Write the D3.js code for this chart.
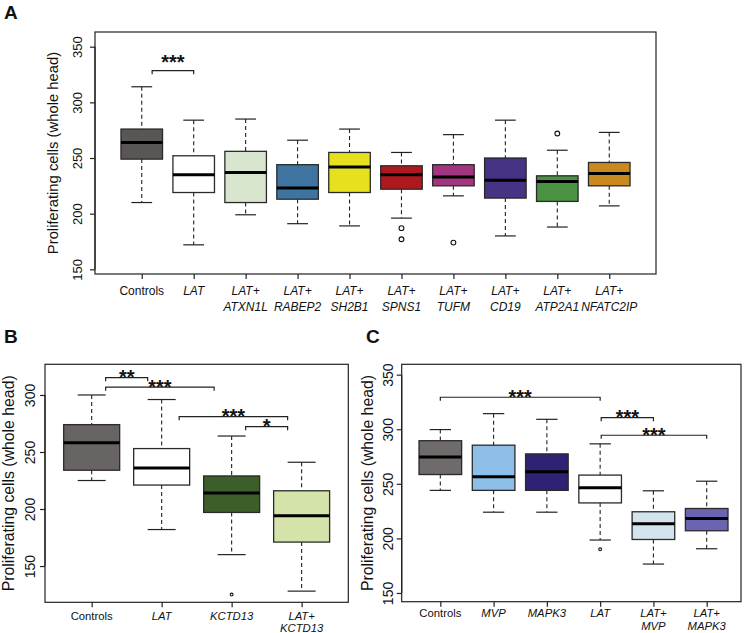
<!DOCTYPE html>
<html><head><meta charset="utf-8">
<script src="https://cdn.jsdelivr.net/npm/d3@7"></script>
<style>
html,body{margin:0;padding:0;background:#fff;}
svg text{font-family:"Liberation Sans",Arial,Helvetica,sans-serif;fill:#111;}
</style></head>
<body>
<svg id="chart" width="747" height="633"></svg>
<script>
// ---------- DATA ----------
// Panel A
const catsA = ["Controls","LAT","LAT+|ATXN1L","LAT+|RABEP2","LAT+|SH2B1","LAT+|SPNS1","LAT+|TUFM","LAT+|CD19","LAT+|ATP2A1","LAT+|NFATC2IP"];
const lowA  = [210,172,199,191,189,196,216,180,188,207];
const q1A   = [249,219,210,213,219,222,225,214,211,225];
const medA  = [264,235,237,223,242,235,233,230,229,236];
const q3A   = [276,252,256,244,255,243,244,250,234,246];
const highA = [314,284,285,266,276,255,271,284,257,273];
const outA  = [[],[],[],[],[],[187,177],[174],[],[272],[]];
const colA  = ["#5a5656","#ffffff","#d9e6cf","#3f74a0","#e6e01e","#b0181f","#a1357f","#463383","#4a9141","#c9891f"];
const ticksA = [150,200,250,300,350];
const sigA = [{x1:1.2,x2:2.0,y:328.5,label:"***"}];

// Panel B
const catsB = ["Controls","LAT","KCTD13","LAT+|KCTD13"];
const lowB  = [225,182,160,128];
const q1B   = [234,221,197,171];
const medB  = [258,236,214,194];
const q3B   = [274,253,229,216];
const highB = [300,296,264,241];
const outB  = [[],[],[125],[]];
const colB  = ["#676463","#ffffff","#3c5e28","#d4e3a9"];
const ticksB = [150,200,250,300];
const sigB = [
  {x1:1.2,x2:1.8,y:315.2,label:"**"},
  {x1:1.2,x2:2.75,y:306.8,label:"***"},
  {x1:2.25,x2:3.8,y:281,label:"***"},
  {x1:3.2,x2:3.8,y:272.2,label:"*"}
];

// Panel C
const catsC = ["Controls","MVP","MAPK3","LAT","LAT+|MVP","LAT+|MAPK3"];
const lowC  = [244,224,224,198.5,176.5,190.5];
const q1C   = [258.5,244,244,232.5,199,207];
const medC  = [274.5,256.5,261,246.3,213.4,218.3];
const q3C   = [289.5,285.4,277.4,258,224.4,227.4];
const highC = [299.7,314.3,309.1,286.6,243.6,252.4];
const outC  = [[],[],[],[190],[],[]];
const colC  = ["#6f6b6b","#8ebfe8","#2e2275","#ffffff","#d3e4ec","#6b64b1"];
const ticksC = [150,200,250,300,350];
const sigC = [
  {x1:1.0,x2:4.0,y:329.3,label:"***"},
  {x1:4.02,x2:5.0,y:310.6,label:"***"},
  {x1:4.02,x2:6.0,y:294.5,label:"***"}
];

const yTitle = "Proliferating cells (whole head)";

// ---------- DRAW ----------
const svg = d3.select("#chart");

function panel(cfg){
  const g = svg.append("g");
  const x = d3.scaleLinear().domain(cfg.xDomain).range([cfg.left, cfg.right]);
  const y = d3.scaleLinear().domain(cfg.yDomain).range([cfg.bottom, cfg.top]);
  const n = cfg.cats.length;
  const bw = 0.8, cw = 0.4;
  const idx = d3.range(n);

  const boxG = g.append("g");
  idx.forEach(i=>{
    const cx = x(i+1);
    boxG.append("line").attr("x1",cx).attr("x2",cx).attr("y1",y(cfg.high[i])).attr("y2",y(cfg.q3[i]))
      .attr("stroke","#222").attr("stroke-width",1.1).attr("stroke-dasharray","4,3");
    boxG.append("line").attr("x1",cx).attr("x2",cx).attr("y1",y(cfg.q1[i])).attr("y2",y(cfg.low[i]))
      .attr("stroke","#222").attr("stroke-width",1.1).attr("stroke-dasharray","4,3");
    [cfg.high[i],cfg.low[i]].forEach(v=>{
      boxG.append("line").attr("x1",x(i+1-cw/2)).attr("x2",x(i+1+cw/2)).attr("y1",y(v)).attr("y2",y(v))
        .attr("stroke","#222").attr("stroke-width",1.2);
    });
    boxG.append("rect").attr("x",x(i+1-bw/2)).attr("width",x(i+1+bw/2)-x(i+1-bw/2))
      .attr("y",y(cfg.q3[i])).attr("height",y(cfg.q1[i])-y(cfg.q3[i]))
      .attr("fill",cfg.colors[i]).attr("stroke","#2a2a2a").attr("stroke-width",1.3);
    boxG.append("line").attr("x1",x(i+1-bw/2)).attr("x2",x(i+1+bw/2)).attr("y1",y(cfg.med[i])).attr("y2",y(cfg.med[i]))
      .attr("stroke","#000").attr("stroke-width",3);
    cfg.out[i].forEach(v=>{
      boxG.append("circle").attr("cx",cx).attr("cy",y(v)).attr("r",cfg.outR)
        .attr("fill","none").attr("stroke","#111").attr("stroke-width",1.1);
    });
  });

  g.append("rect").attr("x",cfg.left).attr("y",cfg.top).attr("width",cfg.right-cfg.left).attr("height",cfg.bottom-cfg.top)
    .attr("fill","none").attr("stroke","#222").attr("stroke-width",1.2);

  const ya = g.append("g").attr("transform",`translate(${cfg.left},0)`)
    .call(d3.axisLeft(y).tickValues(cfg.ticks).tickSize(5).tickFormat(d3.format("d")));
  ya.select(".domain").attr("d",`M0,${y(cfg.ticks[0])}V${y(cfg.ticks[cfg.ticks.length-1])}`).attr("stroke","#222").attr("stroke-width",1.2);
  ya.selectAll(".tick line").attr("stroke","#222").attr("stroke-width",1.2);
  ya.selectAll(".tick text").attr("x",null).attr("dy",null)
    .attr("transform",`translate(${cfg.tickLabelX-cfg.left},0) rotate(-90)`)
    .attr("text-anchor","middle").attr("dominant-baseline","central")
    .style("font-size",cfg.tickFont+"px").style("font-family","Liberation Sans, Arial, sans-serif").attr("fill","#222");

  g.append("text").attr("transform",`translate(${cfg.titleX},${(cfg.top+cfg.bottom)/2}) rotate(-90)`)
    .attr("text-anchor","middle").attr("dominant-baseline","central")
    .style("font-size",cfg.titleFont+"px").attr("fill","#222").text(yTitle);

  const xa = g.append("g").attr("transform",`translate(0,${cfg.bottom})`)
    .call(d3.axisBottom(x).tickValues(idx.map(i=>i+1)).tickSize(5).tickFormat(""));
  xa.select(".domain").remove();
  xa.selectAll(".tick line").attr("stroke","#222").attr("stroke-width",1.2);
  idx.forEach(i=>{
    const lines = cfg.cats[i].split("|");
    lines.forEach((t,j)=>{
      g.append("text").attr("x",x(i+1)).attr("y",cfg.bottom+cfg.lab1+j*cfg.labGap)
        .attr("text-anchor","middle").style("font-size",cfg.xFont+"px")
        .style("font-style", t==="Controls" ? "normal":"italic").attr("fill","#222").text(t);
    });
  });

  cfg.sig.forEach(s=>{
    const yy = y(s.y);
    g.append("path").attr("d",`M${x(s.x1)},${yy+3.5}V${yy}H${x(s.x2)}V${yy+3.5}`)
      .attr("fill","none").attr("stroke","#222").attr("stroke-width",1.2);
    g.append("text").attr("x",(x(s.x1)+x(s.x2))/2).attr("y",yy+cfg.starDy)
      .attr("text-anchor","middle").style("font-size","20px").style("font-weight","bold")
      .attr("fill","#111").text(s.label);
  });

  svg.append("text").attr("x",cfg.letterX).attr("y",cfg.letterY).style("font-size","19px")
    .style("font-weight","bold").attr("fill","#111").text(cfg.letter);
}

panel({letter:"A",letterX:4,letterY:19,cats:catsA,low:lowA,q1:q1A,med:medA,q3:q3A,high:highA,out:outA,colors:colA,
  ticks:ticksA,sig:sigA,xDomain:[0.1,10.9],yDomain:[145.8,363.2],left:95,right:656,top:32,bottom:274,
  tickLabelX:77,titleX:53,tickFont:13,titleFont:14.8,xFont:12,lab1:21,labGap:16,starDy:-2,outR:2.4});

panel({letter:"B",letterX:4,letterY:343,cats:catsB,low:lowB,q1:q1B,med:medB,q3:q3B,high:highB,out:outB,colors:colB,
  ticks:ticksB,sig:sigB,xDomain:[0.333,4.667],yDomain:[118.2,326.9],left:45,right:348.3,top:364.3,bottom:602.3,
  tickLabelX:30,titleX:8,tickFont:14,titleFont:15.8,xFont:11.3,lab1:17.7,labGap:12,starDy:6.4,outR:1.4});

panel({letter:"C",letterX:366,letterY:343,cats:catsC,low:lowC,q1:q1C,med:medC,q3:q3C,high:highC,out:outC,colors:colC,
  ticks:ticksC,sig:sigC,xDomain:[0.275,6.644],yDomain:[142,359.5],left:401.7,right:741,top:364.3,bottom:601.7,
  tickLabelX:388,titleX:367,tickFont:14,titleFont:15.8,xFont:11.3,lab1:15.6,labGap:12.7,starDy:6.4,outR:1.4});
</script>
</body></html>
